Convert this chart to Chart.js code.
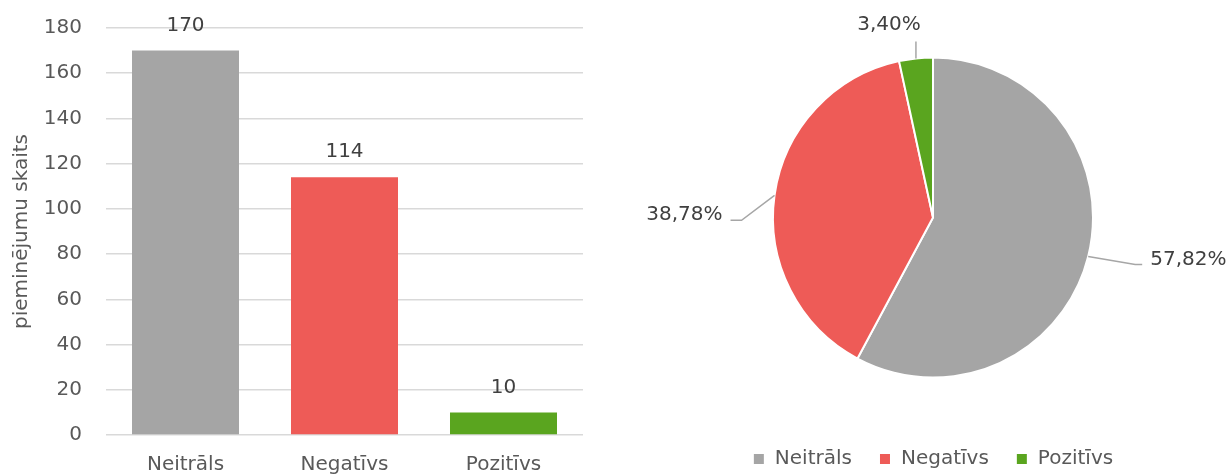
<!DOCTYPE html>
<html>
<head>
<meta charset="utf-8">
<script src="https://cdn.jsdelivr.net/npm/chart.js@4.4.1/dist/chart.umd.min.js"></script>
<style>
  html, body { margin: 0; padding: 0; background: #fff; overflow: hidden; width: 1230px; height: 474px; }
  #barWrap { position: absolute; left: 0; top: 0; }
  #pieWrap { position: absolute; left: 600px; top: 0; }
</style>
</head>
<body>
<div id="barWrap"><canvas id="bar" width="600" height="474"></canvas></div>
<div id="pieWrap"><canvas id="pie" width="630" height="479"></canvas></div>
<script>
const categories = ['Neitrāls', 'Negatīvs', 'Pozitīvs'];
const mentions = [170, 114, 10];
const yTicks = [0, 20, 40, 60, 80, 100, 120, 140, 160, 180];
const sliceColors = ['#a5a5a5', '#ee5b57', '#5aa51f'];

// leader line layout for the pie labels: elbow offset from the slice edge,
// horizontal run after the elbow, then where the text sits relative to the line end
const leaderLayout = [
  { elbow: [47, 8], run: 7, text: [8, -5], align: 'left' },
  { elbow: [-33, 25], run: -11, text: [-8, -6], align: 'right' },
  { elbow: [0, -17], run: 0, text: [-27, -17], align: 'center' }
];

const FONT = "'DejaVu Sans', sans-serif";
Chart.defaults.font.family = FONT;
Chart.defaults.font.size = 20;
Chart.defaults.color = '#595959';

const pct = v => (v / mentions.reduce((a, b) => a + b, 0) * 100).toFixed(2).replace('.', ',') + '%';

const barValueLabels = {
  id: 'barValueLabels',
  afterDatasetsDraw(chart) {
    const ctx = chart.ctx;
    ctx.save();
    ctx.font = '20px ' + FONT;
    ctx.fillStyle = '#404040';
    ctx.textAlign = 'center';
    ctx.textBaseline = 'middle';
    chart.getDatasetMeta(0).data.forEach((bar, i) => {
      ctx.fillText(String(mentions[i]), bar.x, bar.y - 25);
    });
    ctx.restore();
  }
};

const pieLeaderLabels = {
  id: 'pieLeaderLabels',
  afterDatasetsDraw(chart) {
    const ctx = chart.ctx;
    ctx.save();
    ctx.font = '20px ' + FONT;
    ctx.fillStyle = '#404040';
    ctx.textBaseline = 'middle';
    ctx.strokeStyle = '#a6a6a6';
    ctx.lineWidth = 1.5;
    chart.getDatasetMeta(0).data.forEach((arc, i) => {
      const p = arc.getProps(['x', 'y', 'startAngle', 'endAngle', 'outerRadius'], true);
      const mid = (p.startAngle + p.endAngle) / 2;
      const ex = p.x + Math.cos(mid) * p.outerRadius;
      const ey = p.y + Math.sin(mid) * p.outerRadius;
      const L = leaderLayout[i];
      const bx = ex + L.elbow[0], by = ey + L.elbow[1];
      const endX = bx + L.run;
      ctx.beginPath();
      ctx.moveTo(ex, ey);
      ctx.lineTo(bx, by);
      ctx.lineTo(endX, by);
      ctx.stroke();
      ctx.textAlign = L.align;
      ctx.fillText(pct(mentions[i]), endX + L.text[0], by + L.text[1]);
    });
    ctx.restore();
  }
};

new Chart(document.getElementById('bar'), {
  type: 'bar',
  data: {
    labels: categories,
    datasets: [{
      data: mentions,
      backgroundColor: sliceColors,
      barPercentage: 0.673,
      categoryPercentage: 1
    }]
  },
  options: {
    responsive: false,
    animation: false,
    devicePixelRatio: 1,
    layout: { padding: { top: 28, right: 17, left: 0, bottom: 0 } },
    plugins: { legend: { display: false }, tooltip: { enabled: false } },
    scales: {
      x: {
        grid: { display: false, drawTicks: false },
        border: { display: false },
        ticks: { color: '#595959', padding: 18 },
        afterFit(s) { s.height = 39; }
      },
      y: {
        min: 0,
        max: 180,
        afterBuildTicks(s) { s.ticks = yTicks.map(v => ({ value: v })); },
        grid: { color: '#d9d9d9', lineWidth: 1.5, drawTicks: false },
        border: { display: false },
        ticks: { color: '#595959', padding: 24 },
        title: { display: true, text: 'pieminējumu skaits', color: '#595959', padding: { top: 10, bottom: 0 } },
        afterFit(s) { s.width = 106; s.paddingTop = 0; s.paddingBottom = 0; }
      }
    }
  },
  plugins: [barValueLabels]
});

new Chart(document.getElementById('pie'), {
  type: 'pie',
  data: {
    labels: categories,
    datasets: [{
      data: mentions,
      backgroundColor: sliceColors,
      borderColor: '#ffffff',
      borderWidth: 2
    }]
  },
  options: {
    responsive: false,
    animation: false,
    devicePixelRatio: 1,
    radius: 160,
    layout: { padding: { left: 36, top: 13 } },
    plugins: {
      legend: {
        position: 'bottom',
        labels: { boxWidth: 12, boxHeight: 12, padding: 27, color: '#595959', font: { size: 20 } }
      },
      tooltip: { enabled: false }
    }
  },
  plugins: [pieLeaderLabels]
});
</script>
</body>
</html>
